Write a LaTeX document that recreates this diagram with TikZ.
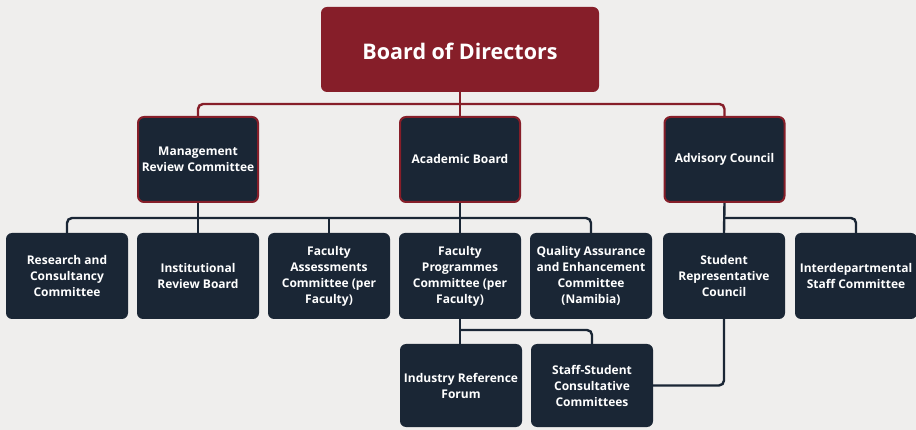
\documentclass[tikz,border=0pt]{standalone}
\usepackage{fontspec}
\setmainfont{Open Sans}
\usepackage{tikz}
\usetikzlibrary{calc,backgrounds}
\definecolor{boardred}{HTML}{861E29}
\definecolor{navy}{HTML}{1A2635}
\definecolor{paper}{HTML}{EFEEED}

\begin{document}
\begin{tikzpicture}[x=1pt,y=-1pt,
  box/.style={rounded corners=6pt,fill=navy,text=white,align=center,
    font=\bfseries\fontsize{12}{16}\selectfont,minimum width=122pt,inner sep=2pt},
  topbox/.style={box,fill=boardred,minimum width=278pt,minimum height=85pt,
    text height=21pt,text depth=0pt,font=\bfseries\fontsize{21.5}{24}\selectfont},
  midbox/.style={box,draw=boardred,line width=2pt,minimum width=120pt,minimum height=85pt},
  leafbox/.style={box,minimum height=86pt},
  redline/.style={draw=boardred,line width=2.4pt,rounded corners=5pt},
  navyline/.style={draw=navy,line width=2.4pt,rounded corners=5pt}]
\useasboundingbox (0,0) rectangle (916,430);

\node[topbox] (board) at (460,49.5) {Board of Directors};

\node[midbox] (mrc) at (198,159.5) {Management\\Review Committee};
\node[midbox] (acad) at (460,159.5) {Academic Board};
\node[midbox] (adv) at (724.5,159.5) {Advisory Council};

\node[leafbox] (rcc) at (67,276) {Research and\\Consultancy\\Committee};
\node[leafbox] (irb) at (198,276) {Institutional\\Review Board};
\node[leafbox] (fac) at (329,276) {Faculty\\Assessments\\Committee (per\\Faculty)};
\node[leafbox] (fpc) at (460,276) {Faculty\\Programmes\\Committee (per\\Faculty)};
\node[leafbox] (qaec) at (591,276) {Quality Assurance\\and Enhancement\\Committee\\(Namibia)};
\node[leafbox] (src) at (724,276) {Student\\Representative\\Council};
\node[leafbox] (isc) at (856,276) {Interdepartmental\\Staff Committee};

\node[leafbox,minimum height=83pt] (irf) at (461,385.5) {Industry Reference\\Forum};
\node[leafbox,minimum height=83pt] (sscc) at (592,385.5) {Staff-Student\\Consultative\\Committees};

\coordinate (redbar) at (460,104);
\coordinate (mrcbar) at (198,218);
\coordinate (advbar) at (724.5,218);
\coordinate (fpcbar) at (460,330);

\begin{scope}[on background layer]
\fill[paper] (0,0) rectangle (916,430);
\path[redline] (board.south) -- (acad.north);
\path[redline] (mrc.north) |- (redbar) -| (adv.north);
\path[navyline] (mrc.south) -- (irb.north);
\path[navyline] (rcc.north) |- (mrcbar) -| (qaec.north);
\path[navyline] (fac.north) -- (fac.north |- mrcbar);
\path[navyline] (acad.south) -- (fpc.north);
\path[navyline] (adv.south) -- (src.north);
\path[navyline] (advbar) -| (isc.north);
\path[navyline] (fpc.south) -- (fpc.south |- irf.north);
\path[navyline] (fpcbar) -| (sscc.north);
\path[navyline] (src.south) |- (sscc.east);
\end{scope}
\end{tikzpicture}
\end{document}
